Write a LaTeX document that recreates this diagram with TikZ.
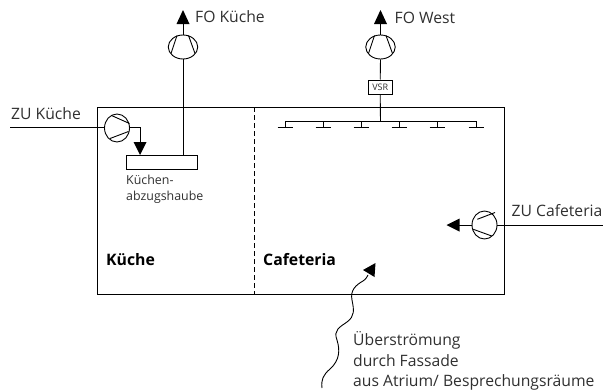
\documentclass[tikz,border=0pt]{standalone}
\usepackage{fontspec}
\setmainfont{Open Sans}
\definecolor{txt}{HTML}{303030}
\tikzset{
  x=1pt,y=-1pt,
  line/.style={draw=black,line width=0.9pt},
  tip/.style={fill=black,draw=none},
  fanh/.style={ellipse,draw=black,line width=0.9pt,minimum width=25pt,minimum height=28pt,inner sep=0pt,fill=white},
  fanv/.style={ellipse,draw=black,line width=0.9pt,minimum width=29.5pt,minimum height=24pt,inner sep=0pt,fill=white},
  lab/.style={anchor=west,inner sep=0pt,font=\fontsize{15.7}{18}\selectfont,text=txt},
  bold/.style={anchor=west,inner sep=0pt,font=\fontsize{15.8}{18}\selectfont\bfseries,text=black},
  box/.style={draw=black,line width=0.9pt,inner sep=0pt}
}
\usetikzlibrary{shapes.geometric}
\begin{document}
\begin{tikzpicture}
\useasboundingbox (0,0) rectangle (603,391);
% room
\node[box,minimum width=406.5pt,minimum height=186.5pt,anchor=north west] (room) at (97,107) {};
\coordinate (dtop) at (254,107);
\coordinate (dbot) at (254,293.5);
\draw[line,dash pattern=on 5pt off 3pt] (dtop) -- (dbot);
% hood
\node[box,minimum width=71pt,minimum height=14pt,anchor=north west] (hood) at (126,155) {};
\node[inner sep=0pt,text=txt,anchor=north west,align=left,font=\fontsize{12.4}{15.5}\selectfont] (hoodl) at (126,175) {Küchen-\\abzugshaube};
% FO Kueche
\node[fanv] (f1) at (183,47) {};
\coordinate (h1) at (183,155);
\coordinate (a1) at (183,10);
\draw[line] (h1) -- (f1.south);
\draw[line] (f1.north) -- (183,24);
\fill[tip] (a1) -- (189.5,24) -- (176.5,24) -- cycle;
\draw[line] (177,35.5) -- (171,53.5);
\draw[line] (188.5,35.5) -- (195,53.5);
\node[lab] (l1) at (195,17) {FO Küche};
% FO West
\node[fanv] (f2) at (380.5,47) {};
\coordinate (a2) at (380.5,10);
\node[box,minimum width=24.5pt,minimum height=14.5pt,anchor=north west,font=\fontsize{9}{10}\selectfont,text=txt] (vsr) at (367.5,79.5) {VSR};
\draw[line] (f2.north) -- (380.5,24);
\fill[tip] (a2) -- (387,24) -- (374,24) -- cycle;
\draw[line] (374.5,35.5) -- (368.5,53.5);
\draw[line] (386,35.5) -- (392.5,53.5);
\draw[line] (f2.south) -- (vsr.north);
\coordinate (busm) at (380.5,121);
\draw[line] (vsr.south) -- (busm);
\node[lab] (l2) at (394.5,18) {FO West};
% diffusers
\draw[line] (285,121) -- (476,121);
\foreach \x in {285,323,361,399,437,476}{
  \draw[line] (\x,121) -- (\x,127.5);
  \draw[line] (\x-7.5,127.5) -- (\x+7.5,127.5);
}
% ZU Kueche
\node[fanh] (f3) at (117,128) {};
\coordinate (z3) at (10,127);
\draw[line] (z3) -- (f3.west |- z3);
\draw[line] (111.5,115.5) -- (129.5,123.5);
\draw[line] (110,138.5) -- (128.5,131.5);
\draw[line] (129.5,127.5) -- (140,127.5) -- (140,145);
\fill[tip] (140,155) -- (133.5,142) -- (146.5,142) -- cycle;
\node[lab] (l3) at (11,113.5) {ZU Küche};
% ZU Cafeteria
\node[fanh] (f4) at (484.5,225) {};
\coordinate (z4) at (603,225);
\draw[line] (z4) -- (f4.east |- z4);
\draw[line] (477.3,219.3) -- (495,212.5);
\draw[line] (473.3,229.3) -- (491.7,236);
\draw[line] (472,225) -- (458,225);
\fill[tip] (446.5,225) -- (459.5,218.5) -- (459.5,231.5) -- cycle;
\node[lab] (l4) at (511.5,211) {ZU Cafeteria};
% labels
\node[bold] (k) at (106,260) {Küche};
\node[bold] (c) at (263,260) {Cafeteria};
% wavy
\coordinate (w0) at (322,388);
\coordinate (w1) at (373,265);
\draw[line] (w0) .. controls (321,380) and (323,375) .. (330,369)
  .. controls (340,360) and (340,350) .. (337,340)
  .. controls (333,330) and (340,327) .. (347,322)
  .. controls (355,316) and (354,310) .. (352,300)
  .. controls (350,290) and (356,285) .. (363,281)
  .. controls (366,279) and (367,277) .. (368,275);
\fill[tip] (375.5,263) -- (374.5,277) -- (363,270) -- cycle;
\node[lab] (u1) at (353,340) {Überströmung};
\node[lab] (u2) at (353,361) {durch Fassade};
\node[lab] (u3) at (353,382) {aus Atrium/ Besprechungsräume};
\end{tikzpicture}
\end{document}
